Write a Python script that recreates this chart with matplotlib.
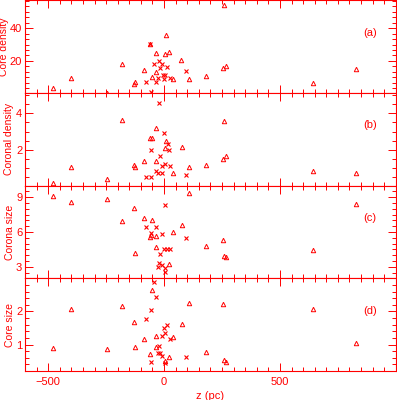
import matplotlib
matplotlib.use("Agg")
import matplotlib.pyplot as plt
from matplotlib.ticker import AutoMinorLocator

plt.rcParams["font.family"] = ["Liberation Sans", "DejaVu Sans"]

RED = "#ff0000"

# --------------------------------------------
# Data (z in pc)
# --------------------------------------------

# (a) core density
z_tri_a = [-481, -401, -246, -180, -128, -124, -86, -59, -52, -33, -33, 6, 7, 20, 37, 75, 109, 181, 253, 259, 269, 644, 829]
v_tri_a = [3.1, 9.4, 0.6, 18.1, 5.6, 7.1, 14.2, 30.6, 10.0, 24.6, 12.9, 24.2, 35.6, 25.2, 9.2, 20.6, 8.6, 10.8, 15.4, 54.4, 17.1, 6.25, 15.0]
z_x_a = [-76, -59, -55, -45, -33, -27, -20, -19, -10, -4, 0, 6, 14, 26, 95]
v_x_a = [6.9, 30.6, 1.1, 18.1, 7.3, 9.8, 19.8, 15.6, 17.9, 11.25, 8.6, 11.25, 16.0, 9.8, 13.9]

# (b) coronal density
z_tri_b = [-481, -401, -246, -180, -128, -124, -86, -62, -52, -33, -33, 6, 7, 37, 76, 109, 181, 253, 259, 269, 644, 829]
v_tri_b = [0.22, 1.06, 0.44, 3.65, 1.18, 1.06, 1.37, 2.63, 2.63, 3.22, 1.37, 2.09, 2.5, 0.76, 2.18, 1.07, 1.17, 1.48, 3.56, 1.67, 0.85, 0.74]
z_x_b = [-76, -56, -55, -33, -27, -20, -19, -10, -7, 0, 6, 16, 20, 25, 95]
v_x_b = [0.54, 1.98, 0.54, 0.83, 0.74, 4.56, 1.67, 1.15, 0.74, 2.9, 1.26, 2.3, 1.98, 1.15, 0.65]

# (c) corona size
z_tri_c = [-481, -401, -246, -180, -128, -124, -86, -59, -57, -52, -33, -33, 20, 37, 76, 109, 181, 253, 259, 269, 644, 829]
v_tri_c = [9.09, 8.57, 8.89, 6.94, 8.06, 4.17, 7.17, 5.55, 5.72, 7.03, 5.63, 4.71, 3.23, 6.0, 6.57, 9.34, 4.77, 5.34, 3.94, 3.83, 4.48, 8.43]
z_x_c = [-76, -55, -33, -27, -20, -19, -10, -7, 0, 6, 6, 6, 14, 25, 95]
v_x_c = [6.43, 5.91, 6.43, 2.94, 3.32, 4.11, 5.8, 3.11, 4.54, 8.34, 2.86, 2.57, 4.52, 4.57, 5.51]

# (d) core size
z_tri_d = [-481, -401, -246, -180, -128, -124, -86, -60, -52, -33, -33, 6, 20, 37, 76, 109, 181, 253, 259, 269, 644, 829]
v_tri_d = [0.91, 2.07, 0.86, 2.16, 1.67, 0.94, 1.17, 0.72, 2.64, 1.26, 0.94, 0.5, 0.63, 1.24, 1.62, 2.27, 0.77, 2.23, 0.54, 0.48, 2.07, 1.06]
z_x_d = [-76, -55, -55, -45, -33, -27, -20, -19, -10, -7, 0, 6, 6, 14, 25, 95]
v_x_d = [1.76, 2.04, 0.48, 2.89, 2.45, 0.73, 0.97, 0.73, 1.26, 0.66, 1.49, 1.36, 0.45, 1.58, 1.18, 0.63]

panels = [
    ("Core density", "(a)", z_tri_a, v_tri_a, z_x_a, v_x_a, (0.3, 57), [20, 40], 6, -0.044),
    ("Coronal density", "(b)", z_tri_b, v_tri_b, z_x_b, v_x_b, (0.05, 5.1), [2, 4], 4, -0.030),
    ("Corona size", "(c)", z_tri_c, v_tri_c, z_x_c, v_x_c, (2.0, 10.0), [3, 6, 9], 6, -0.027),
    ("Core size", "(d)", z_tri_d, v_tri_d, z_x_d, v_x_d, (0.2, 3.0), [1, 2], 5, -0.027),
]

# --------------------------------------------
# Plot
# --------------------------------------------

fig, axes = plt.subplots(4, 1, figsize=(3.97, 4.0), dpi=100, sharex=True)
fig.subplots_adjust(left=0.063, right=0.997, bottom=0.0725, top=0.999, hspace=0)

for ax, (ylabel, tag, zt, vt, zx, vx, ylim, yticks, nminor, labx) in zip(axes, panels):
    ax.plot(zt, vt, linestyle="none", marker="^", markersize=3.2,
            markerfacecolor="none", markeredgecolor=RED, markeredgewidth=0.7)
    ax.plot(zx, vx, linestyle="none", marker="x", markersize=2.8,
            color=RED, markeredgewidth=0.8)

    ax.set_xlim(-600, 1000)
    ax.set_ylim(*ylim)
    ax.set_xticks([-500, 0, 500])
    ax.xaxis.set_minor_locator(AutoMinorLocator(10))
    ax.set_yticks(yticks)
    ax.yaxis.set_minor_locator(AutoMinorLocator(nminor))

    for sp in ax.spines.values():
        sp.set_color(RED)
        sp.set_linewidth(0.8)
    ax.tick_params(which="both", direction="in", top=True, right=True,
                   color=RED, labelcolor=RED, labelsize=8, width=0.7)
    ax.tick_params(which="major", length=6)
    ax.tick_params(which="minor", length=3)
    ax.tick_params(axis="y", pad=2)
    ax.tick_params(axis="x", pad=4)

    ax.set_ylabel(ylabel, color=RED, fontsize=7.5)
    ax.yaxis.set_label_coords(labx, 0.5)
    ax.text(0.93, 0.65, tag, transform=ax.transAxes, color=RED, fontsize=8,
            ha="center", va="center")

axes[-1].set_xlabel("z (pc)", color=RED, fontsize=8, labelpad=3)

plt.savefig("out.png", dpi=100)
plt.close()
